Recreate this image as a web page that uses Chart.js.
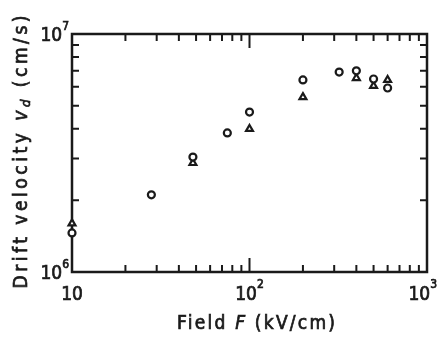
<!DOCTYPE html>
<html>
<head>
<meta charset="utf-8">
<script src="https://cdn.jsdelivr.net/npm/chart.js@4/dist/chart.umd.min.js"></script>
<style>
  html, body { margin: 0; background: #fff; }
  #wrap { width: 439px; height: 340px; }
</style>
</head>
<body>
<div id="wrap"><canvas id="chart"></canvas></div>
<script>
// drift velocity vs field, two data sets (circles and triangles)
const fieldCircle = [10, 28, 48, 75, 100, 200, 320, 400, 500, 600];
const velCircle = [1.46e6, 2.11e6, 3.04e6, 3.84e6, 4.7e6, 6.41e6, 6.92e6, 7.0e6, 6.47e6, 5.93e6];
const fieldTri = [10, 48, 100, 200, 400, 500, 600];
const velTri = [1.6e6, 2.87e6, 3.99e6, 5.43e6, 6.53e6, 6.05e6, 6.41e6];

const xMajor = [10, 100, 1000];
const xMajorExp = ['', '2', '3'];
const yMajor = [1e6, 1e7];
const yMajorExp = ['6', '7'];
const xMinor = [20, 30, 40, 50, 60, 70, 80, 90, 200, 300, 400, 500, 600, 700, 800, 900];
const yMinor = [2e6, 3e6, 4e6, 5e6, 6e6, 7e6, 8e6, 9e6];

const FONT = "'DejaVu Sans Condensed', 'DejaVu Sans', sans-serif";
const INK = '#1a1a1a';

function toPoints(xs, ys) {
  return xs.map((x, i) => ({ x: x, y: ys[i] }));
}

// text with a thin outline so it reads as heavy as the scanned figure
function heavyText(ctx, s, x, y) {
  ctx.fillText(s, x, y);
  ctx.strokeText(s, x, y);
}

// frame, inward ticks on all four sides, tick labels and axis titles
const framePlugin = {
  id: 'frame',
  beforeDatasetsDraw(chart) {
    const ctx = chart.ctx;
    const a = chart.chartArea;
    const xs = chart.scales.x;
    const ys = chart.scales.y;
    ctx.save();
    ctx.strokeStyle = INK;
    ctx.lineWidth = 2;

    function tick(v, len, axis) {
      if (axis === 'x') {
        const px = xs.getPixelForValue(v);
        ctx.beginPath();
        ctx.moveTo(px, a.bottom); ctx.lineTo(px, a.bottom - len);
        ctx.moveTo(px, a.top); ctx.lineTo(px, a.top + len);
        ctx.stroke();
      } else {
        const py = ys.getPixelForValue(v);
        ctx.beginPath();
        ctx.moveTo(a.left, py); ctx.lineTo(a.left + len, py);
        ctx.moveTo(a.right, py); ctx.lineTo(a.right - len, py);
        ctx.stroke();
      }
    }
    xMinor.forEach(v => tick(v, 7, 'x'));
    xMajor.forEach(v => tick(v, 14, 'x'));
    yMinor.forEach(v => tick(v, 7, 'y'));
    yMajor.forEach(v => tick(v, 14, 'y'));

    ctx.lineWidth = 2.5;
    ctx.strokeRect(a.left, a.top, a.right - a.left, a.bottom - a.top);

    // tick labels
    const big = '19px ' + FONT;
    const small = '12px ' + FONT;
    ctx.fillStyle = INK;
    ctx.lineWidth = 0.7;
    ctx.textBaseline = 'middle';
    xMajor.forEach((v, i) => {
      const px = xs.getPixelForValue(v);
      ctx.font = big;
      const w1 = ctx.measureText('10').width;
      ctx.font = small;
      const w2 = xMajorExp[i] ? ctx.measureText(xMajorExp[i]).width : 0;
      const x0 = Math.min(px - (w1 + w2) / 2, 437 - w1 - w2);
      ctx.textAlign = 'left';
      ctx.font = big;
      heavyText(ctx, '10', x0, a.bottom + 23);
      if (xMajorExp[i]) {
        ctx.font = small;
        heavyText(ctx, xMajorExp[i], x0 + w1, a.bottom + 13);
      }
    });
    yMajor.forEach((v, i) => {
      const py = ys.getPixelForValue(v);
      ctx.font = small;
      const w2 = ctx.measureText(yMajorExp[i]).width;
      ctx.textAlign = 'right';
      heavyText(ctx, yMajorExp[i], a.left - 3, py - 7);
      ctx.font = big;
      heavyText(ctx, '10', a.left - 3 - w2, py + 2);
    });

    // axis titles, letters spread to the reference width
    function drawParts(parts, cx, cy, target) {
      ctx.letterSpacing = '0px';
      let total = 0, n = 0;
      parts.forEach(p => { ctx.font = p.font; total += ctx.measureText(p.text).width; n += p.text.length; });
      const sp = Math.max(0, (target - total) / (n - 1));
      ctx.letterSpacing = sp + 'px';
      let x = cx - target / 2;
      ctx.textAlign = 'left';
      parts.forEach(p => {
        ctx.font = p.font;
        heavyText(ctx, p.text, x, cy + (p.dy || 0));
        x += ctx.measureText(p.text).width;
      });
      ctx.letterSpacing = '0px';
    }
    drawParts([
      { text: 'Field ', font: '19px ' + FONT },
      { text: 'F', font: 'italic 19px ' + FONT },
      { text: ' (kV/cm)', font: '19px ' + FONT }
    ], 256, 324, 158);

    ctx.save();
    ctx.translate(22, 152);
    ctx.rotate(-Math.PI / 2);
    drawParts([
      { text: 'Drift velocity ', font: '19px ' + FONT },
      { text: 'v', font: 'italic 19px ' + FONT },
      { text: 'd', font: 'italic 13px ' + FONT, dy: 5 },
      { text: ' (cm/s)', font: '19px ' + FONT }
    ], 0, 0, 273);
    ctx.restore();
    ctx.restore();
  }
};

new Chart(document.getElementById('chart').getContext('2d'), {
  type: 'scatter',
  data: {
    datasets: [
      {
        label: 'circles',
        data: toPoints(fieldCircle, velCircle),
        pointStyle: 'circle',
        pointRadius: 3.5,
        pointBorderWidth: 2.2,
        pointBorderColor: INK,
        pointBackgroundColor: '#fff',
        clip: false
      },
      {
        label: 'triangles',
        data: toPoints(fieldTri, velTri),
        pointStyle: 'triangle',
        pointRadius: 4,
        pointBorderWidth: 2.2,
        pointBorderColor: INK,
        pointBackgroundColor: '#fff',
        clip: false
      }
    ]
  },
  options: {
    responsive: true,
    maintainAspectRatio: false,
    animation: false,
    layout: { padding: { top: 34, right: 12, left: 0, bottom: 0 } },
    plugins: {
      legend: { display: false },
      tooltip: { enabled: false }
    },
    scales: {
      x: {
        type: 'logarithmic',
        min: 10,
        max: 1000,
        grid: { display: false },
        border: { display: false },
        ticks: { display: false },
        afterFit: s => { s.height = 68; }
      },
      y: {
        type: 'logarithmic',
        min: 1e6,
        max: 1e7,
        grid: { display: false },
        border: { display: false },
        ticks: { display: false },
        afterFit: s => { s.width = 72; }
      }
    }
  },
  plugins: [framePlugin]
});
</script>
</body>
</html>
